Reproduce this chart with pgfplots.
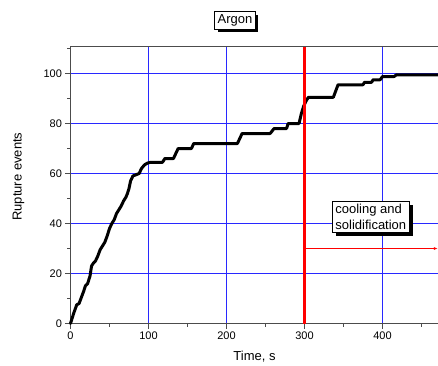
\documentclass[border=0pt]{standalone}
\usepackage{fontspec}
\setmainfont{Liberation Sans}
\usepackage{pgfplots}
\pgfplotsset{compat=1.18}
\usetikzlibrary{arrows.meta}
\definecolor{gridblue}{RGB}{40,40,255}
\begin{document}
\begin{tikzpicture}[x=1pt,y=1pt]
\begin{axis}[
  scale only axis,
  width=368pt, height=277pt,
  xmin=0, xmax=471.8, ymin=0, ymax=110.8,
  axis x line=box, axis y line=left,
  axis line style={-, draw=black!70, line width=1.2pt},
  xtick={0,100,200,300,400}, ytick={0,20,40,60,80,100},
  minor xtick={50,150,250,350,450}, minor ytick={10,30,50,70,90,110},
  xtick pos=bottom, ytick pos=left,
  tick align=outside,
  major tick length=5pt, minor tick length=3pt,
  tick style={black!70, line width=0.8pt},
  xmajorgrids, ymajorgrids,
  major grid style={draw=gridblue, line width=1pt},
  /pgf/number format/assume math mode=true,
  tick label style={font=\fontsize{11}{12}\selectfont},
  label style={font=\fontsize{13}{15}\selectfont},
  xlabel={Time, s},
  ylabel={Rupture events},
  xlabel style={at={(axis description cs:0.5,0)}, anchor=center, yshift=-33pt},
  ylabel style={at={([xshift=-52pt]axis description cs:0,0.53)}, anchor=center, rotate=0},
  clip=false,
]
\addplot[black, line width=3pt, line join=round, line cap=round] coordinates {
(0,0) (4,4) (8,7.5) (11,8) (14,10.5) (17,13) (19,15) (22,16) (25,19) (27,23)
(29,24) (32,25) (35,27) (38,29.5) (41,31) (44,32.5) (47,35) (50,38) (53,40)
(56,41.5) (59,44) (62,45.5) (65,47) (68,49) (71,50.5) (73,52) (75,54) (77,57)
(80,59) (84,59.5) (88,60) (91,62) (95,63.5) (99,64.2) (103,64.5) (118,64.5)
(121,66) (132,66) (135,68) (138,70) (155,70) (158,72) (214,72) (220,76)
(256,76) (261,78) (277,78) (279,80) (293,80) (296,84) (299,87) (302,89)
(305,90.5) (337,90.5) (340,93) (343,95.5) (375,95.5) (377,96.5) (386,96.5)
(388,97.5) (397,97.5) (400,98.8) (415,98.8) (418,99.5) (471.8,99.5)
};
\addplot[red, line width=2.5pt] coordinates {(300,0) (300,110.8)};
\addplot[red, line width=1.2pt, -{Latex[length=4pt,width=3pt]}] coordinates {(300,30) (471,30)};
\coordinate (cb) at (axis cs:385,42.7);
\coordinate (ab) at (axis description cs:0.447,1.0);
\end{axis}
\node[fill=black, align=left, inner sep=3pt, text=black,
  font=\fontsize{13}{15.5}\selectfont]
  at ([xshift=4pt, yshift=-4pt]cb) {cooling and\\solidification};
\node[draw=black, fill=white, align=left, inner sep=3pt, line width=0.6pt,
  font=\fontsize{13}{15.5}\selectfont]
  at (cb) {cooling and\\solidification};
\node[fill=black, inner sep=3pt, text=black, font=\fontsize{13}{15.5}\selectfont]
  at ([xshift=3pt, yshift=23pt]ab) {Argon};
\node[draw=black, fill=white, inner sep=3pt, line width=0.6pt,
  font=\fontsize{13}{15.5}\selectfont] at ([yshift=26pt]ab) {Argon};
\pgfresetboundingbox
\path[use as bounding box] (-70.5,-41.5) rectangle (367.5,323.5);
\end{tikzpicture}
\end{document}
